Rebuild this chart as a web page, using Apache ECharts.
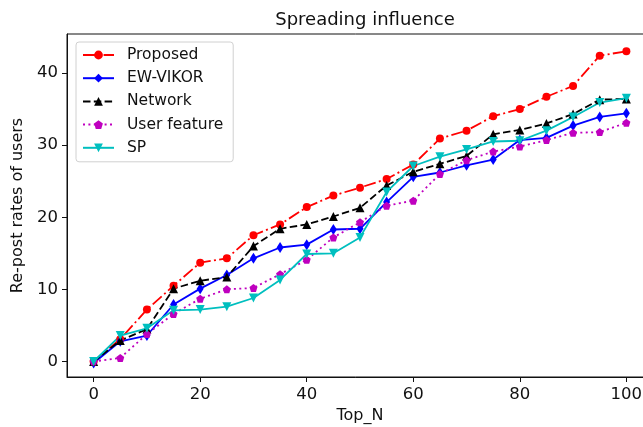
<!DOCTYPE html>
<html>
<head>
<meta charset="utf-8">
<script src="https://cdn.jsdelivr.net/npm/echarts@6/dist/echarts.min.js"></script>
<style>
  html, body { margin: 0; padding: 0; background: #fff; }
  #chart { width: 643px; height: 427px; }
</style>
</head>
<body>
<div id="chart"></div>
<script>
// Top_N values on the x axis
var topN = [0, 5, 10, 15, 20, 25, 30, 35, 40, 45, 50, 55, 60, 65, 70, 75, 80, 85, 90, 95, 100];

// re-post rates
var proposed = [0, 3.1, 7.2, 10.5, 13.7, 14.3, 17.5, 19.0, 21.4, 23.0, 24.1, 25.3, 27.3, 30.9, 32.0, 34.0, 35.0, 36.7, 38.2, 42.4, 43.0];
var ewVikor = [-0.2, 2.8, 3.6, 7.9, 10.1, 12.0, 14.3, 15.8, 16.2, 18.3, 18.4, 22.1, 25.6, 26.2, 27.2, 28.0, 30.7, 31.0, 32.7, 33.9, 34.4];
var network = [0, 2.9, 4.5, 10.1, 11.2, 11.7, 16.0, 18.4, 19.0, 20.1, 21.3, 24.4, 26.3, 27.4, 28.5, 31.5, 32.1, 33.0, 34.3, 36.3, 36.4];
var userFeature = [0, 0.5, 3.8, 6.6, 8.7, 10.0, 10.2, 12.1, 14.1, 17.2, 19.3, 21.6, 22.3, 26.0, 27.9, 29.1, 29.8, 30.7, 31.7, 31.8, 33.1];
var sp = [0, 3.6, 4.6, 7.1, 7.2, 7.6, 8.8, 11.3, 14.9, 15.0, 17.2, 23.5, 27.1, 28.4, 29.4, 30.5, 30.6, 32.0, 33.9, 35.9, 36.5];

var xTicks = [0, 20, 40, 60, 80, 100];
var yTicks = [0, 10, 20, 30, 40];

var pentagon = 'path://M0,-10 L9.51,-3.09 L5.88,8.09 L-5.88,8.09 L-9.51,-3.09 Z';

function pairs(ys) {
    return ys.map(function (y, i) {
        return [topN[i], y];
    });
}

function makeSeries(name, ys, color, dash, symbol, size, rotate) {
    return {
        name: name,
        type: 'line',
        data: pairs(ys),
        symbol: symbol,
        symbolSize: size,
        symbolRotate: rotate || 0,
        showAllSymbol: true,
        color: color,
        itemStyle: { color: color },
        lineStyle: { color: color, width: 1.8, type: dash },
        emphasis: { disabled: true }
    };
}

var chart = echarts.init(document.getElementById('chart'));

var option = {
    animation: false,
    textStyle: { fontFamily: 'DejaVu Sans' },
    title: {
        text: 'Spreading influence',
        left: 360,
        textAlign: 'center',
        top: 6,
        textStyle: { fontFamily: 'DejaVu Sans', fontSize: 18, fontWeight: 'normal', color: '#111' }
    },
    grid: {
        left: 67,
        top: 34,
        right: -10,
        bottom: 50,
        show: true,
        borderColor: '#111',
        borderWidth: 1,
        outerBoundsMode: 'none'
    },
    legend: {
        orient: 'vertical',
        left: 76,
        top: 42,
        itemWidth: 31,
        itemHeight: 11,
        itemGap: 7.2,
        padding: [5, 10, 6, 6],
        borderColor: '#d0d0d0',
        borderWidth: 1,
        borderRadius: 3,
        backgroundColor: 'rgba(255,255,255,0.85)',
        textStyle: { fontFamily: 'DejaVu Sans', fontSize: 15.5, color: '#111', padding: [0, 0, 0, 8] },
        data: ['Proposed', 'EW-VIKOR', 'Network', 'User feature', 'SP']
    },
    xAxis: {
        type: 'value',
        min: -5,
        max: 105,
        name: 'Top_N',
        nameLocation: 'middle',
        nameGap: 29,
        nameTextStyle: { fontFamily: 'DejaVu Sans', fontSize: 16, color: '#111' },
        splitLine: { show: false },
        axisLine: { onZero: false, lineStyle: { color: '#111', width: 1 } },
        axisTick: { customValues: xTicks, length: 5, lineStyle: { color: '#111' } },
        axisLabel: { customValues: xTicks, margin: 9, fontSize: 16.5, color: '#111', fontFamily: 'DejaVu Sans' }
    },
    yAxis: {
        type: 'value',
        min: -2.15,
        max: 45.4,
        name: 'Re-post rates of users',
        nameLocation: 'middle',
        nameGap: 36,
        nameTextStyle: { fontFamily: 'DejaVu Sans', fontSize: 16, color: '#111' },
        splitLine: { show: false },
        axisLine: { show: true, onZero: false, lineStyle: { color: '#111', width: 1 } },
        axisTick: { show: true, customValues: yTicks, length: 5, lineStyle: { color: '#111' } },
        axisLabel: { customValues: yTicks, margin: 9, fontSize: 16.5, color: '#111', fontFamily: 'DejaVu Sans' }
    },
    series: [
        makeSeries('Proposed', proposed, '#ff0000', [12, 3.3, 2, 3.3], 'circle', 8),
        makeSeries('EW-VIKOR', ewVikor, '#0000ff', 'solid', 'diamond', [7, 11]),
        makeSeries('Network', network, '#000000', [7.5, 3.3], 'triangle', 9),
        makeSeries('User feature', userFeature, '#bf00bf', [2, 3.4], pentagon, 8),
        makeSeries('SP', sp, '#00bfbf', 'solid', 'triangle', 9, 180)
    ]
};

chart.setOption(option);
</script>
</body>
</html>
